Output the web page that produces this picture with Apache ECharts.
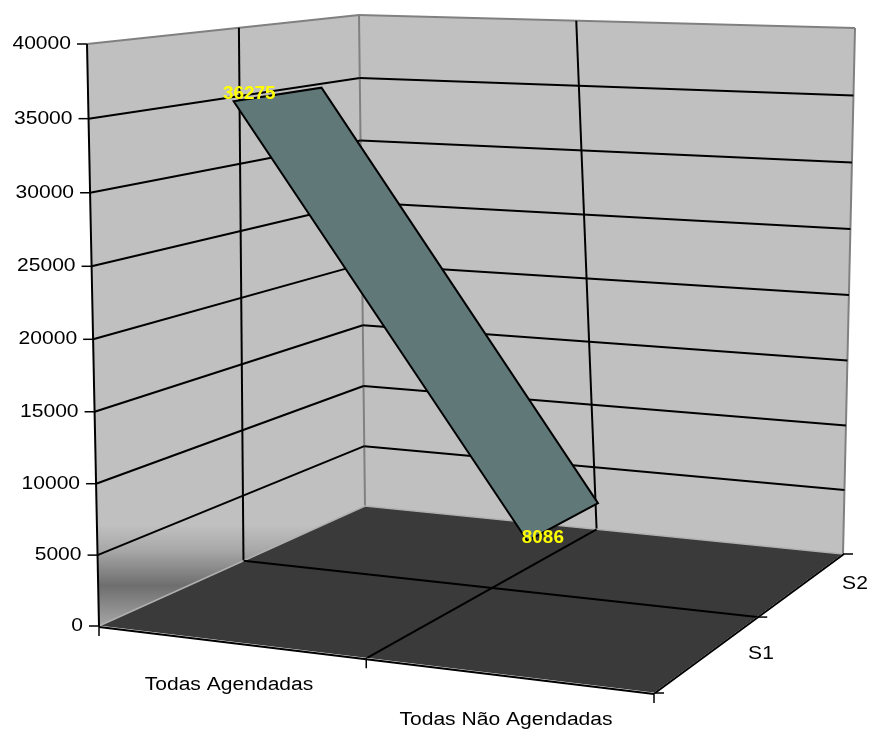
<!DOCTYPE html>
<html><head><meta charset="utf-8"><title>Chart</title>
<style>html,body{margin:0;padding:0;background:#fff}#c{width:869px;height:731px}</style>
<script src="https://cdn.jsdelivr.net/npm/echarts@6/dist/echarts.min.js"></script>
</head><body><div id="c"></div>
<script>
const categories = ['Todas Agendadas', 'Todas Não Agendadas'];
const depthSeries = ['S1', 'S2'];
const seriesS1 = [36275, 8086];
const valueTicks = [0, 5000, 10000, 15000, 20000, 25000, 30000, 35000, 40000];

// ---- 3D frame layout (screen corners of the box) ----
const floorQuad = [[99,626],[654,693],[843,554],[365,506]];   // front-left, front-right, back-right, back-left
const topQuad   = [[87,44],[660,73],[855,28],[359,15]];
const PERSP = 1.03, DEPTH_HALF = 0.15, UA = 0.0, W = 869, H = 731;
const BAND_FILL = '#607878', WALL = '#C0C0C0', FLOOR = '#3A3A3A', EDGE = '#808080';
const LABEL_OFFSET = [[-30,0],[-21,17]];
const FONT = '18px "Liberation Sans", Arial, sans-serif';
const STRETCH = 1.17;

function homography(q){
  const [x0,y0]=q[0],[x1,y1]=q[1],[x2,y2]=q[2],[x3,y3]=q[3];
  const dx1=x1-x2,dx2=x3-x2,sx=x0-x1+x2-x3,dy1=y1-y2,dy2=y3-y2,sy=y0-y1+y2-y3;
  const den=dx1*dy2-dx2*dy1,g=(sx*dy2-dx2*sy)/den,h=(dx1*sy-sx*dy1)/den;
  const a=x1-x0+g*x1,b=x3-x0+h*x3,d=y1-y0+g*y1,e=y3-y0+h*y3;
  return (u,s)=>{const w=g*u+h*s+1;return [(a*u+b*s+x0)/w,(d*u+e*s+y0)/w];};
}
const floorH = homography(floorQuad), topH = homography(topQuad);
// u: along categories, s: along series depth, v: share of the value axis (0..1)
function project(u,s,v){
  const t=v/(v+PERSP*(1-v)), f=floorH(u,s), p=topH(u,s);
  return [f[0]+(p[0]-f[0])*t, f[1]+(p[1]-f[1])*t];
}
const line=(a,b,stroke,lw)=>({type:'line',shape:{x1:a[0],y1:a[1],x2:b[0],y2:b[1]},style:{stroke,lineWidth:lw,fill:null}});
const poly=(pts,fill,stroke,lw)=>({type:'polygon',shape:{points:pts},style:{fill,stroke:stroke||null,lineWidth:lw||0}});
const text=(str,x,y,align,extra)=>({type:'text',x,y,scaleX:STRETCH,style:Object.assign({text:str,x:0,y:0,font:FONT,fill:'#000',align,verticalAlign:'middle'},extra||{})});
const shift=(p,dx,dy)=>[p[0]+dx,p[1]+dy];

function renderFrame(params,api){
  const vShare=t=>t/valueTicks[valueTicks.length-1];
  const c=[];
  const wallGrad=new echarts.graphic.LinearGradient(0,525,0,626,[
    {offset:0,color:'#C0C0C0'},{offset:0.25,color:'#A8A8A8'},{offset:0.6,color:'#6E6E6E'},{offset:1,color:'#A6A6A6'}],true);
  // walls
  c.push(poly([project(0,0,0),project(0,1,0),project(0,1,1),project(0,0,1)],wallGrad));
  c.push(poly([project(0,1,0),project(1,1,0),project(1,1,1),project(0,1,1)],WALL));
  // wall edges
  c.push(line(project(0,0,1),project(0,1,1),EDGE,2));
  c.push(line(project(0,1,1),project(1,1,1),EDGE,2));
  c.push(line(project(0,1,0),project(0,1,1),EDGE,2));
  c.push(line(project(1,1,0),project(1,1,1),EDGE,2));
  // wall gridlines
  valueTicks.slice(1,-1).forEach(t=>{
    const v=vShare(t);
    c.push(line(project(0,0,v),project(0,1,v),'#000',2));
    c.push(line(project(0,1,v),project(1,1,v),'#000',2));
  });
  c.push(line(project(0,0.5,0),project(0,0.5,1),'#000',2));
  c.push(line(project(0.5,1,0),project(0.5,1,1),'#000',2));
  // floor
  c.push(poly([project(0,0,0),project(1,0,0),project(1,1,0),project(0,1,0)],FLOOR));
  c.push(line(project(0,0,0),project(0,1,0),'#B0B0B0',1.5));
  c.push(line(project(0,1,0),project(1,1,0),'#B0B0B0',1.5));
  c.push(line(project(0.5,0,0),project(0.5,1,0),'#000',2));
  c.push(line(project(0,0.5,0),project(1,0.5,0),'#000',2));
  c.push(line(project(0,0,0),project(1,0,0),'#E8E8E8',1));
  c.push(line(project(1,0,0),project(1,1,0),'#E8E8E8',1));
  // axis lines and ticks
  c.push(line(project(0,0,0),project(0,0,1),'#000',2));
  c.push(line(shift(project(0,0,0),0,1),shift(project(1,0,0),0,1),'#000',2));
  c.push(line(shift(project(1,0,0),1,0),shift(project(1,1,0),1,0),'#000',2));
  valueTicks.forEach(t=>{
    const p=project(0,0,vShare(t));
    c.push(line(shift(p,-10,0),p,'#000',1.5));
    c.push(text(String(t),p[0]-16,p[1],'right'));
  });
  [0,0.5,1].forEach(u=>{const p=project(u,0,0);c.push(line(p,shift(p,0,10),'#000',1.5));});
  [0,0.5,1].forEach(s=>{const p=project(1,s,0);c.push(line(p,shift(p,10,0),'#000',1.5));});
  // category and series-depth labels
  c.push(text(categories[0],229,685,'center'));
  c.push(text(categories[1],506,720,'center'));
  c.push(text(depthSeries[0],761,654,'center'));
  c.push(text(depthSeries[1],855,584,'center'));
  return {type:'group',children:c};
}

function renderBand(params,api){
  if(params.dataIndex!==0) return null;
  const s0=0.25-DEPTH_HALF,s1=0.25+DEPTH_HALF;
  const uv=seriesS1.map((val,i)=>{
    const p=api.coord([i,val]);
    return [p[0]/W,1-p[1]/H];
  });
  const a=project(uv[0][0],s0,uv[0][1]),b=project(uv[0][0],s1,uv[0][1]);
  const cc=project(uv[1][0],s1,uv[1][1]),d=project(uv[1][0],s0,uv[1][1]);
  const labels=uv.map((q,i)=>{
    const m=project(q[0],0.25,q[1]);
    return text(String(seriesS1[i]),m[0]+LABEL_OFFSET[i][0],m[1]+LABEL_OFFSET[i][1],'center',{fill:'#FFFF00',font:'bold 18px "Liberation Sans", Arial, sans-serif'});
  });
  labels.forEach(l=>{l.scaleX=1.05;});
  return {type:'group',children:[poly([a,b,cc,d],BAND_FILL,'#000',2)].concat(labels)};
}

const chart=echarts.init(document.getElementById('c'),null,{renderer:'canvas'});
chart.setOption({
  animation:false,
  backgroundColor:'#fff',
  grid:{left:0,right:0,top:0,bottom:0},
  xAxis:{type:'category',data:categories,show:false},
  yAxis:{type:'value',min:valueTicks[0],max:valueTicks[valueTicks.length-1],show:false},
  series:[
    {type:'custom',coordinateSystem:'cartesian2d',silent:true,z:1,renderItem:renderFrame,data:[[0,0]],clip:false},
    {type:'custom',name:depthSeries[0],coordinateSystem:'cartesian2d',silent:true,z:2,renderItem:renderBand,clip:false,
     data:seriesS1.map((v,i)=>[i,v])}
  ]
});
</script></body></html>
